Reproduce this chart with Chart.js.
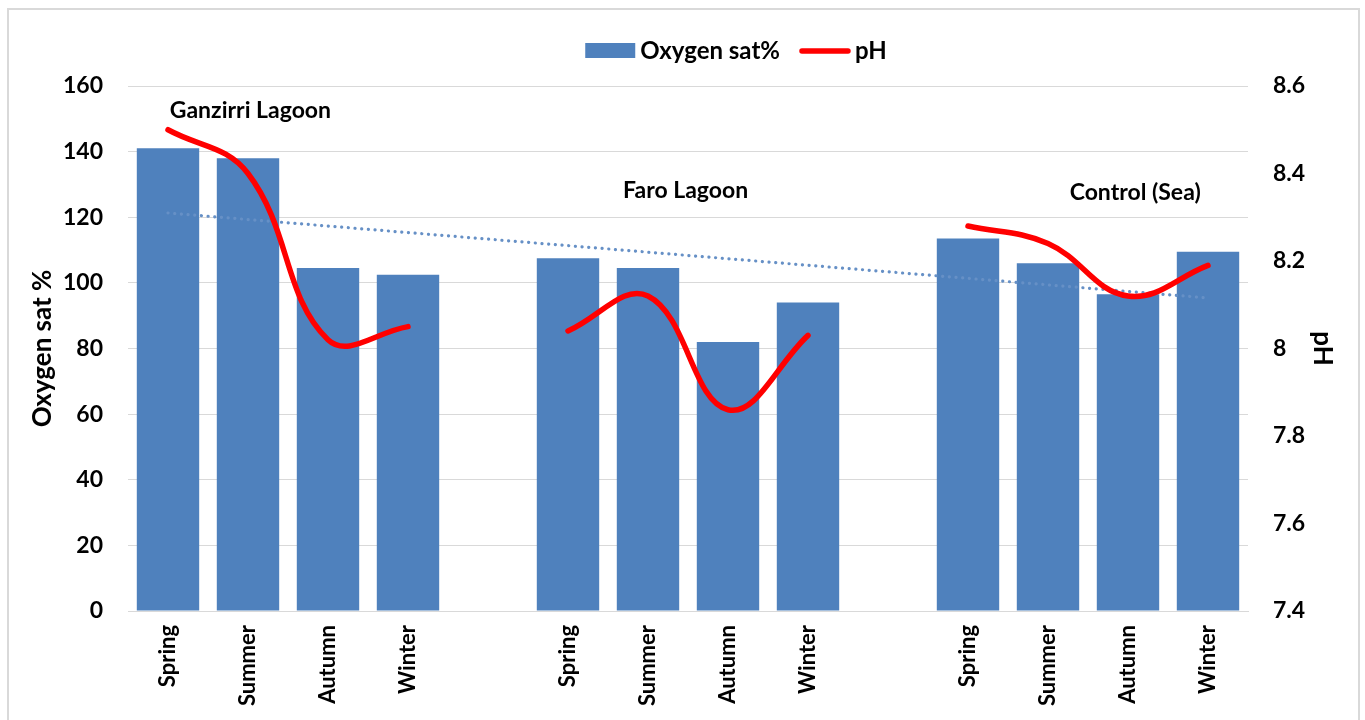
<!DOCTYPE html>
<html>
<head>
<meta charset="utf-8">
<script src="https://cdn.jsdelivr.net/npm/chart.js@4.4.1/dist/chart.umd.min.js"></script>
<style>
  html, body { margin: 0; padding: 0; background: #fff; }
  #wrap { position: absolute; left: 0; top: 0; width: 1365px; height: 720px; }
  #frame { position: absolute; left: 7px; top: 8px; width: 1349px; height: 720px; border: 2px solid #d9d9d9; border-bottom: none; pointer-events: none; }
</style>
</head>
<body>
<div id="wrap">
  <canvas id="chart" width="1365" height="720"></canvas>
  <div id="frame"></div>
</div>
<script>
// categories: three sites x four seasons, with an empty slot between sites
const seasons = ["Spring", "Summer", "Autumn", "Winter", "", "Spring", "Summer", "Autumn", "Winter", "", "Spring", "Summer", "Autumn", "Winter"];

const oxygenSat = [141, 138, 104.5, 102.5, null, 107.5, 104.5, 82, 94, null, 113.5, 106, 96.5, 109.5];
const pH = [8.50, 8.40, 8.02, 8.05, null, 8.04, 8.12, 7.86, 8.03, null, 8.28, 8.24, 8.12, 8.19];
// linear trendline of oxygen sat (only its two ends are needed)
const oxygenTrend = [121.3, null, null, null, null, null, null, null, null, null, null, null, null, 95.4];

const siteNames = ["Ganzirri Lagoon", "Faro Lagoon", "Control (Sea)"];

const FONT = "Lato, 'Liberation Sans', sans-serif";

// where the site names sit: category position and oxygen-axis value
const siteLabelPos = [
  { cat: 1.03, val: 152.4 },
  { cat: 6.47, val: 128.1 },
  { cat: 12.09, val: 127.4 }
];

function catToPixel(xs, c) {
  const i0 = Math.floor(c);
  const x0 = xs.getPixelForValue(i0);
  const x1 = xs.getPixelForValue(i0 + 1);
  return x0 + (x1 - x0) * (c - i0);
}

const siteLabels = {
  id: 'siteLabels',
  afterDatasetsDraw(chart) {
    const ctx = chart.ctx;
    const xs = chart.scales.x, ys = chart.scales.y;
    ctx.save();
    ctx.font = "bold 23px " + FONT;
    ctx.fillStyle = "#000";
    ctx.textAlign = "center";
    ctx.textBaseline = "middle";
    siteNames.forEach(function(name, i) {
      const p = siteLabelPos[i];
      ctx.fillText(name, catToPixel(xs, p.cat), ys.getPixelForValue(p.val));
    });
    ctx.restore();
  }
};

// Excel-like legend: swatch, short gap, bold text
const topLegend = {
  id: 'topLegend',
  afterDraw(chart) {
    const ctx = chart.ctx;
    const sets = chart.data.datasets.filter(function(d) { return d.label !== 'trend'; });
    ctx.save();
    ctx.font = "bold 24px " + FONT;
    ctx.textBaseline = "middle";
    const sw = 50, gap = 5, between = 20;
    let total = 0;
    sets.forEach(function(d, i) {
      total += sw + gap + ctx.measureText(d.label).width + (i ? between : 0);
    });
    const cy = 51;
    let x = 736 - total / 2;
    sets.forEach(function(d, i) {
      if (i) x += between;
      if (d.type === 'line') {
        ctx.strokeStyle = d.borderColor;
        ctx.lineWidth = d.borderWidth;
        ctx.lineCap = 'round';
        ctx.beginPath();
        ctx.moveTo(x + 2, cy);
        ctx.lineTo(x + sw - 2, cy);
        ctx.stroke();
      } else {
        ctx.fillStyle = d.backgroundColor;
        ctx.fillRect(x, cy - 8, sw, 15);
      }
      x += sw + gap;
      ctx.fillStyle = '#000';
      ctx.fillText(d.label, x, cy);
      x += ctx.measureText(d.label).width;
    });
    ctx.restore();
  }
};

new Chart(document.getElementById('chart'), {
  type: 'bar',
  plugins: [siteLabels, topLegend],
  data: {
    labels: seasons,
    datasets: [
      {
        type: 'bar',
        label: 'Oxygen sat%',
        data: oxygenSat,
        backgroundColor: '#4f81bd',
        borderWidth: 0,
        yAxisID: 'y',
        order: 3,
        categoryPercentage: 1,
        barPercentage: 0.78
      },
      {
        type: 'line',
        label: 'trend',
        data: oxygenTrend,
        borderColor: '#6690c6',
        borderWidth: 3.2,
        borderDash: [0.1, 6.6],
        borderCapStyle: 'round',
        pointRadius: 0,
        spanGaps: true,
        fill: false,
        yAxisID: 'y',
        order: 2
      },
      {
        type: 'line',
        label: 'pH',
        data: pH,
        borderColor: '#ff0000',
        backgroundColor: '#ff0000',
        borderWidth: 5.5,
        borderCapStyle: 'round',
        pointRadius: 0,
        tension: 0.4,
        spanGaps: false,
        fill: false,
        yAxisID: 'y1',
        order: 1
      }
    ]
  },
  options: {
    responsive: false,
    animation: false,
    layout: { padding: { top: 86, left: 0, right: 0, bottom: 0 } },
    plugins: {
      tooltip: { enabled: false },
      legend: { display: false }
    },
    scales: {
      x: {
        grid: { display: false, drawTicks: false },
        border: { display: true, color: '#d9d9d9', width: 1 },
        afterFit: function(s) { s.height = 109; },
        ticks: {
          color: '#000',
          maxRotation: 90,
          minRotation: 90,
          autoSkip: false,
          padding: 14,
          font: { family: FONT, size: 22, weight: 'bold' }
        }
      },
      y: {
        position: 'left',
        min: 0,
        max: 160,
        afterFit: function(s) { s.width = 128; },
        grid: { color: '#d9d9d9', lineWidth: 1, drawTicks: false },
        border: { display: false },
        ticks: {
          stepSize: 20,
          color: '#000',
          padding: 25,
          font: { family: FONT, size: 23, weight: 'bold' }
        },
        title: {
          display: true,
          text: 'Oxygen sat %',
          color: '#000',
          padding: { top: 27, bottom: 0 },
          font: { family: FONT, size: 26, weight: 'bold' }
        }
      },
      y1: {
        position: 'right',
        min: 7.4,
        max: 8.6,
        afterFit: function(s) { s.width = 117; },
        grid: { display: false, drawTicks: false },
        border: { display: false },
        ticks: {
          stepSize: 0.2,
          color: '#000',
          padding: 25,
          font: { family: FONT, size: 23, weight: 'bold' },
          callback: function(v) { return String(Number(v.toFixed(1))); }
        },
        title: {
          display: true,
          text: 'pH',
          color: '#000',
          padding: { top: 27, bottom: 0 },
          font: { family: FONT, size: 26, weight: 'bold' }
        }
      }
    }
  }
});
</script>
</body>
</html>
